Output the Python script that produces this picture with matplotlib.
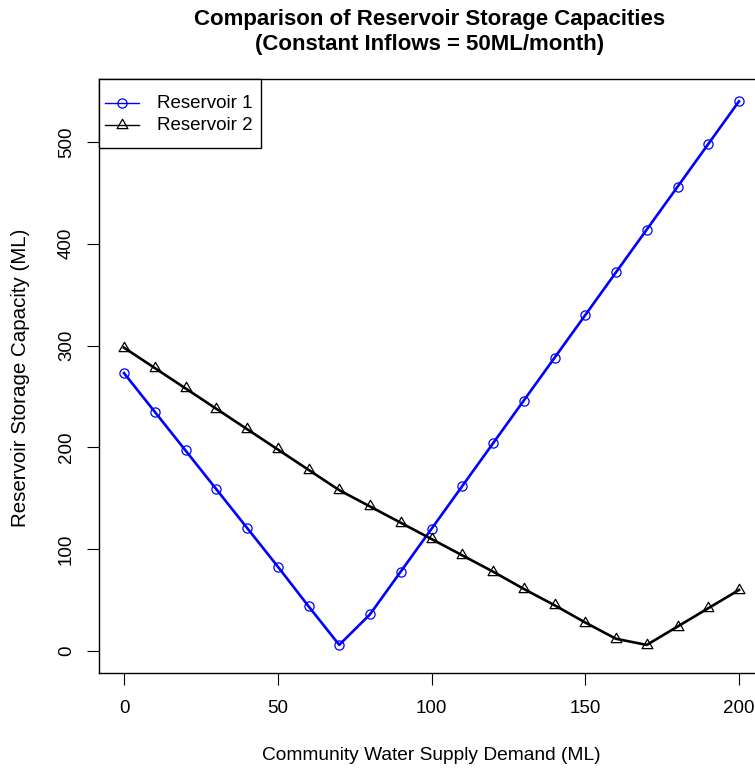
import matplotlib
matplotlib.use("Agg")
import matplotlib.pyplot as plt
from matplotlib.path import Path
from matplotlib.lines import Line2D
from matplotlib.patches import Rectangle

demand = [0, 10, 20, 30, 40, 50, 60, 70, 80, 90, 100, 110, 120, 130, 140, 150,
          160, 170, 180, 190, 200]
reservoir1 = [273, 235, 197, 159, 121, 83, 44, 6, 36, 78, 120, 162, 204, 246,
              288, 330, 372, 414, 456, 498, 540]
reservoir2 = [298, 278, 258, 238, 218, 198, 178, 158, 142, 126, 110, 94, 78,
              61, 45, 28, 12, 6, 24, 42, 60]
xticks = [0, 50, 100, 150, 200]
yticks = [0, 100, 200, 300, 400, 500]
series_names = ["Reservoir 1", "Reservoir 2"]
series_colors = ["#0000FF", "black"]
title = "Comparison of Reservoir Storage Capacities\n(Constant Inflows = 50ML/month)"
xlabel = "Community Water Supply Demand (ML)"
ylabel = "Reservoir Storage Capacity (ML)"

FONT = "Liberation Sans"
plt.rcParams["font.family"] = [FONT, "DejaVu Sans"]

# R-style open triangle (centred on its centroid)
tri = Path([(0, 1), (-0.866, -0.5), (0.866, -0.5), (0, 1)],
           [Path.MOVETO, Path.LINETO, Path.LINETO, Path.CLOSEPOLY])
markers = ["o", tri]
msizes = [6.6, 9.0]

W, H = 755, 769
fig = plt.figure(figsize=(W / 100, H / 100), dpi=100)


def fx(px):
    return px / W


def fy(py):
    return 1 - py / H


left, right, top, bottom = 99.4, 763.6, 79.3, 673.0
ax = fig.add_axes([fx(left), fy(bottom), (right - left) / W, (bottom - top) / H])

for vals, col, mk, ms in zip([reservoir1, reservoir2], series_colors, markers, msizes):
    ax.plot(demand, vals, color=col, lw=1.9, marker=mk, ms=ms,
            mfc="none", mec=col, mew=0.9, zorder=3)

ax.set_xlim(-8, 208)
ax.set_ylim(-21.6, 561.6)
ax.set_xticks(xticks)
ax.set_yticks(yticks)
ax.set_xticklabels([str(v) for v in xticks], fontsize=13.5)
ax.set_yticklabels([str(v) for v in yticks], fontsize=13.5, rotation=90, va="center")
ax.tick_params(axis="both", length=8.6, width=0.8, color="black", direction="out")
ax.tick_params(axis="x", pad=11)
ax.tick_params(axis="y", pad=9)
for s in ax.spines.values():
    s.set_linewidth(1.0)
    s.set_color("black")

fig.text(fx(21), fy(378), ylabel, rotation=90, ha="center", va="center", fontsize=14.8)
fig.text(fx(431), fy(755), xlabel, ha="center", va="center", fontsize=13.8)
fig.text(fx(430), fy(32), title, ha="center", va="center",
         fontweight="bold", fontsize=16, linespacing=1.3)

# legend box (R style, top-left corner of the plot region)
lg_l, lg_t, lg_r, lg_b = left, top, 261, 148.3
fig.add_artist(Rectangle((fx(lg_l), fy(lg_b)), (lg_r - lg_l) / W, (lg_b - lg_t) / H,
                         transform=fig.transFigure, facecolor="white",
                         edgecolor="black", lw=1.0, zorder=5))
row_y = [103.3, 125.0]
for name, col, mk, ms, ry in zip(series_names, series_colors, markers, msizes, row_y):
    fig.add_artist(Line2D([fx(105), fx(139)], [fy(ry), fy(ry)], transform=fig.transFigure,
                          color=col, lw=1.0, zorder=6))
    fig.add_artist(Line2D([fx(122)], [fy(ry)], transform=fig.transFigure, color=col,
                          marker=mk, ms=ms, mfc="none", mec=col, mew=0.9, lw=0, zorder=6))
    fig.text(fx(157), fy(ry), name, ha="left", va="center", fontsize=13.5, zorder=7)

fig.savefig("out.png", dpi=100)
